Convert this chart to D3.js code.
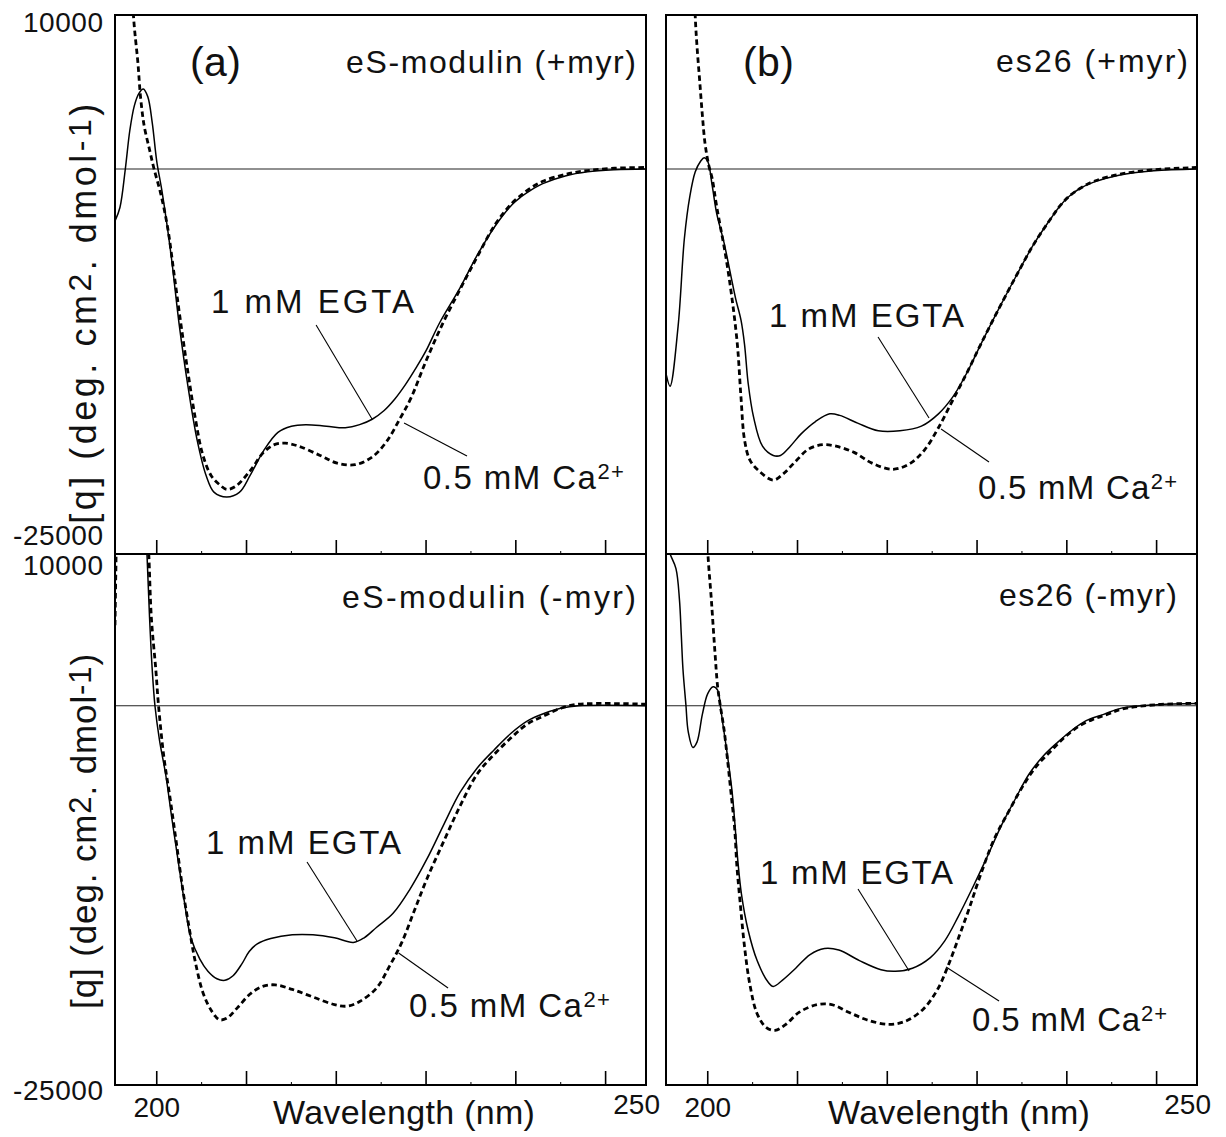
<!DOCTYPE html>
<html><head><meta charset="utf-8">
<script src="https://cdn.jsdelivr.net/npm/d3@7"></script>
<style>
body{margin:0;background:#fff}
svg{display:block}
text{font-family:"Liberation Sans",Arial,Helvetica,sans-serif;fill:#111}
</style>
</head><body>
<svg id="chart" width="1226" height="1137"></svg>
<script>
// ---------- DATA (wavelength nm, [theta] deg cm2 dmol-1) ----------
const xTicks = [200, 210, 220, 230, 240, 250];
const xMinorTicks = [205, 215, 225, 235, 245];
const xTickText = ["200", "250"];
const yTickValues = [10000, -25000];
const yTickText = ["10000", "-25000"];
const panelLetters = ["(a)", "(b)", "", ""];
const panelTitles = ["eS-modulin (+myr)", "es26 (+myr)", "eS-modulin (-myr)", "es26 (-myr)"];
const seriesNames = ["1 mM EGTA", "0.5 mM Ca"];

// (a) eS-modulin (+myr)
const aEGTA = [[195.4,-3300],[195.9,-2500],[196.5,0],[197.0,2500],[197.5,4100],[198.0,4900],[198.5,5200],[199.0,4700],[199.5,3000],[200.0,500],[200.6,-1500],[201.6,-5600],[202.5,-10100],[203.5,-14200],[204.5,-17600],[205.5,-19900],[206.4,-21000],[207.8,-21300],[209.2,-21000],[210.4,-19900],[211.9,-18300],[213.5,-17100],[215.0,-16700],[216.6,-16600],[218.9,-16700],[221.0,-16800],[222.6,-16600],[224.0,-16250],[225.3,-15700],[226.5,-14950],[227.7,-14000],[228.9,-12900],[230.0,-11800],[231.5,-10000],[233.8,-7700],[235.7,-5600],[237.7,-3700],[239.6,-2300],[240.6,-1800],[241.6,-1400],[243.0,-950],[245.5,-450],[248.0,-180],[251.0,-50],[254.5,0]];
const aCa = [[197.0,16000],[197.4,10000],[197.9,6900],[198.2,4650],[198.6,2800],[199.2,1250],[199.7,0],[200.4,-1500],[201.2,-3750],[201.95,-6900],[202.7,-10100],[203.5,-13300],[204.3,-16200],[205.1,-18500],[206.05,-19900],[207.0,-20500],[207.8,-20800],[208.8,-20600],[210.4,-19600],[211.9,-18400],[213.1,-17900],[214.3,-17800],[215.8,-18000],[218.2,-18600],[220.1,-19100],[222.1,-19200],[224.0,-18700],[225.6,-17700],[227.1,-16200],[228.3,-14900],[229.9,-12600],[231.8,-10100],[233.8,-7800],[235.7,-5700],[237.7,-3600],[239.6,-2200],[240.6,-1700],[241.6,-1250],[243.0,-800],[245.5,-350],[248.0,-100],[251.0,50],[254.5,100]];

// (b) es26 (+myr)
const bEGTA = [[195.4,-13400],[195.8,-14100],[196.7,-10200],[197.4,-4500],[198.0,-1800],[198.6,-200],[199.2,500],[199.6,730],[200.0,500],[200.5,-1100],[201.0,-2900],[201.8,-4750],[202.6,-7000],[203.1,-8400],[203.7,-9800],[204.1,-11400],[204.5,-13900],[205.1,-16100],[206.1,-18000],[207.3,-18600],[208.1,-18600],[209.2,-18000],[210.4,-17200],[212.0,-16400],[213.6,-15900],[214.7,-16000],[216.7,-16500],[219.0,-17000],[221.4,-17000],[223.8,-16700],[225.7,-15900],[227.3,-14800],[228.9,-13200],[230.4,-11400],[232.4,-9100],[234.4,-6900],[236.3,-4900],[238.3,-3150],[239.3,-2350],[240.3,-1750],[241.5,-1250],[243.0,-850],[245.8,-400],[249.7,-120],[254.5,0]];
const bCa = [[198.3,16000],[198.6,10000],[198.8,8000],[199.1,5750],[199.4,3500],[199.7,1650],[200.1,270],[200.5,-640],[201.0,-2450],[202.0,-5650],[202.7,-8400],[203.3,-11400],[203.7,-14800],[204.1,-17600],[204.7,-18900],[205.7,-19600],[207.3,-20200],[208.4,-19800],[209.6,-19100],[211.2,-18200],[212.8,-17900],[214.3,-18000],[216.3,-18400],[218.3,-19100],[220.6,-19500],[222.6,-19100],[224.2,-18200],[225.7,-16800],[227.3,-15000],[228.9,-13200],[230.4,-11400],[232.4,-9100],[234.4,-6900],[236.3,-4900],[238.3,-3150],[239.3,-2350],[240.3,-1750],[241.5,-1250],[243.0,-800],[245.8,-350],[249.7,-50],[254.5,100]];

// (c) eS-modulin (-myr)
const cEGTA = [[198.6,16000],[198.9,10150],[199.2,5800],[199.5,2350],[199.8,0],[200.3,-2250],[201.0,-4550],[201.7,-7500],[202.4,-10300],[203.1,-13000],[203.8,-15300],[204.8,-16700],[205.7,-17500],[206.7,-18000],[207.6,-18100],[208.5,-17800],[209.5,-17000],[210.3,-16200],[211.2,-15700],[212.7,-15350],[215.1,-15100],[217.4,-15100],[219.8,-15300],[221.9,-15600],[223.1,-15300],[224.5,-14600],[226.3,-13700],[228.2,-12100],[230.1,-10100],[232.0,-7800],[233.8,-5700],[235.7,-4100],[237.6,-2900],[239.5,-1800],[241.3,-1000],[243.2,-500],[245.1,-150],[247.0,0],[254.5,0]];
const cCa = [[195.35,5300],[195.45,9000],[195.6,12500],[196.5,16000],[198.0,16000],[198.8,13000],[199.1,10150],[199.4,5800],[199.9,2350],[200.2,0],[200.8,-3400],[201.5,-6150],[202.2,-9100],[202.9,-12100],[203.6,-14600],[204.3,-16900],[205.2,-19000],[206.2,-20200],[207.0,-20700],[207.8,-20600],[209.0,-19900],[210.4,-19000],[211.8,-18500],[213.2,-18400],[215.1,-18700],[217.4,-19200],[219.8,-19700],[221.2,-19800],[222.6,-19500],[224.5,-18600],[225.9,-17200],[227.3,-15600],[228.7,-13500],[230.1,-11400],[232.0,-8900],[233.8,-6600],[235.7,-4500],[237.6,-3200],[239.5,-2100],[241.3,-1200],[243.2,-650],[245.1,-150],[247.0,100],[254.5,100]];

// (d) es26 (-myr)
const dEGTA = [[195.5,11500],[195.7,10200],[196.46,9040],[196.85,6980],[197.05,4700],[197.24,2400],[197.56,110],[197.83,-1720],[198.35,-2750],[198.8,-2400],[199.4,-570],[200.0,800],[200.6,1250],[201.1,1030],[201.4,0],[201.7,-1260],[202.2,-3300],[202.7,-5600],[203.0,-7600],[203.35,-10200],[203.75,-12400],[204.5,-14800],[205.5,-16800],[206.7,-18200],[207.3,-18500],[208.3,-18100],[209.8,-17300],[211.4,-16400],[213.0,-16000],[214.6,-16100],[216.9,-16800],[219.3,-17400],[220.9,-17500],[222.8,-17300],[224.8,-16600],[226.4,-15500],[227.9,-13900],[229.5,-12000],[231.1,-10000],[232.7,-7900],[234.3,-6100],[235.8,-4500],[237.4,-3300],[239.0,-2400],[240.6,-1600],[242.1,-1000],[244.1,-570],[246.1,-160],[250.0,70],[254.5,150]];
const dCa = [[199.8,14000],[200.0,10200],[200.4,7000],[200.8,3550],[201.1,1260],[201.4,0],[201.8,-1500],[202.2,-3550],[202.6,-5800],[203.0,-8100],[203.25,-10600],[203.6,-12900],[204.1,-15900],[204.7,-18400],[205.5,-20300],[206.5,-21200],[207.5,-21400],[208.7,-21000],[210.2,-20200],[212.2,-19700],[213.8,-19700],[215.7,-20200],[217.7,-20700],[220.1,-21000],[222.0,-20800],[224.0,-20000],[225.6,-18700],[226.8,-17100],[228.0,-15200],[229.1,-13400],[230.3,-11300],[231.9,-8800],[233.5,-7000],[235.0,-5400],[236.6,-4000],[238.2,-3000],[239.8,-2060],[241.3,-1370],[242.9,-900],[244.5,-570],[246.1,-230],[250.0,70],[254.5,160]];

// annotation anchors in data units
const annotEGTA = [[206.05,-9350],[206.83,-10260],[205.49,-9775],[205.83,-11750]];
const annotCa = [[229.66,-20780],[230.11,-21430],[228.1,-20520],[229.44,-21440]];
const leaderEGTA = [[[217.75,-10130],[223.98,-16235]],[[218.97,-10910],[224.65,-16170]],[[216.74,-10300],[222.31,-15510]],[[216.74,-12080],[222.43,-17490]]];
const leaderCa = [[[227.55,-16495],[234.56,-18640]],[[225.99,-16884],[231.33,-19027]],[[226.94,-16300],[232.45,-18610]],[[226.55,-17220],[232.45,-19460]]];
const egtaSeries = [aEGTA, bEGTA, cEGTA, dEGTA];
const caSeries = [aCa, bCa, cCa, dCa];

// ---------- LAYOUT ----------
const svg = d3.select("#chart");
const cols = [{x0:115, x1:646}, {x0:666, x1:1197}];
const rows = [{y0:15, y1:554}, {y0:554, y1:1085}];
const xDomain = [195.35, 254.5];
const yDomain = [-25000, 10000];
const layout = [
  {c:0, r:0, letX:190, letBase:76, letW:51, titX:346, titBase:73, titW:290, egtaW:203, caW:201},
  {c:1, r:0, letX:743, letBase:76, letW:51, titX:996, titBase:72, titW:192, egtaW:195, caW:199},
  {c:0, r:1, titX:342, titBase:608, titW:294, egtaW:195, caW:201},
  {c:1, r:1, titX:999, titBase:606, titW:178, egtaW:193, caW:195}
];

function fitWidth(sel, w){
  const node = sel.node();
  const n = node.textContent.length;
  const cur = node.getComputedTextLength();
  if (n > 1) sel.attr("letter-spacing", ((w - cur) / (n - 1)).toFixed(2));
}

const defs = svg.append("defs");

layout.forEach((L, i) => {
  const C = cols[L.c], R = rows[L.r];
  const x = d3.scaleLinear().domain(xDomain).range([C.x0, C.x1]);
  const y = d3.scaleLinear().domain(yDomain).range([R.y1, R.y0]);
  const g = svg.append("g");

  defs.append("clipPath").attr("id", "clip" + i)
    .append("rect").attr("x", C.x0).attr("y", R.y0)
    .attr("width", C.x1 - C.x0).attr("height", R.y1 - R.y0);

  // zero line
  g.append("line").attr("x1", C.x0).attr("x2", C.x1)
    .attr("y1", y(0)).attr("y2", y(0))
    .attr("stroke", "#222").attr("stroke-width", 1.1);

  const line = d3.line().x(d => x(d[0])).y(d => y(d[1])).curve(d3.curveCatmullRom.alpha(0.5));
  const cg = g.append("g").attr("clip-path", `url(#clip${i})`);
  cg.append("path").datum(egtaSeries[i]).attr("d", line)
    .attr("fill", "none").attr("stroke", "#000").attr("stroke-width", 1.5);
  cg.append("path").datum(caSeries[i]).attr("d", line)
    .attr("fill", "none").attr("stroke", "#000").attr("stroke-width", 2.8)
    .attr("stroke-dasharray", "5.5,3.5");

  // frame
  g.append("rect").attr("x", C.x0).attr("y", R.y0)
    .attr("width", C.x1 - C.x0).attr("height", R.y1 - R.y0)
    .attr("fill", "none").attr("stroke", "#000").attr("stroke-width", 2);

  // ticks (inward, bottom edge)
  g.selectAll(".maj").data(xTicks).enter().append("line")
    .attr("x1", d => x(d)).attr("x2", d => x(d))
    .attr("y1", R.y1).attr("y2", R.y1 - 14)
    .attr("stroke", "#000").attr("stroke-width", 1.6);
  g.selectAll(".min").data(xMinorTicks).enter().append("line")
    .attr("x1", d => x(d)).attr("x2", d => x(d))
    .attr("y1", R.y1).attr("y2", R.y1 - 3)
    .attr("stroke", "#000").attr("stroke-width", 1);

  // panel letter
  if (panelLetters[i]) {
    const t = g.append("text").attr("x", L.letX).attr("y", L.letBase)
      .attr("font-size", 41).text(panelLetters[i]);
    fitWidth(t, L.letW);
  }
  // panel title
  const tt = g.append("text").attr("x", L.titX).attr("y", L.titBase)
    .attr("font-size", 32).text(panelTitles[i]);
  fitWidth(tt, L.titW);

  // annotations
  const e = g.append("text").attr("x", x(annotEGTA[i][0])).attr("y", y(annotEGTA[i][1]))
    .attr("font-size", 33).text(seriesNames[0]);
  fitWidth(e, L.egtaW);
  const ca = g.append("text").attr("x", x(annotCa[i][0])).attr("y", y(annotCa[i][1]))
    .attr("font-size", 33);
  ca.append("tspan").text(seriesNames[1]);
  ca.append("tspan").attr("font-size", 22).attr("dy", -10).text("2+");
  fitWidth(ca, L.caW);

  [leaderEGTA[i], leaderCa[i]].forEach(seg => {
    g.append("line")
      .attr("x1", x(seg[0][0])).attr("y1", y(seg[0][1]))
      .attr("x2", x(seg[1][0])).attr("y2", y(seg[1][1]))
      .attr("stroke", "#000").attr("stroke-width", 1.1);
  });

  // y tick labels (left column only)
  if (L.c === 0) {
    const bases = L.r === 0 ? [32, 545] : [575, 1100];
    const widths = [80, 90];
    yTickValues.forEach((v, k) => {
      const t = g.append("text").attr("x", 103 - widths[k]).attr("y", bases[k])
        .attr("font-size", 28).text(yTickText[k]);
      fitWidth(t, widths[k]);
    });
    // y axis title
    const cy = L.r === 0 ? 312 : 831;
    const len = L.r === 0 ? 420 : 355;
    const fs = L.r === 0 ? 36 : 35;
    const yt = g.append("text")
      .attr("transform", `translate(96,${cy}) rotate(-90)`)
      .attr("text-anchor", "middle").attr("font-size", fs);
    yt.append("tspan").text("[q] (deg. cm");
    yt.append("tspan").attr("dy", -5).attr("font-size", fs - 4).text("2");
    yt.append("tspan").attr("dy", 5).text(". dmol");
    yt.append("tspan").attr("dy", -5).attr("font-size", fs - 4).text("-1");
    yt.append("tspan").attr("dy", 5).text(")");
    fitWidth(yt, len);
  }

  // x tick labels + axis title (bottom row)
  if (L.r === 1) {
    g.append("text").attr("x", x(xTicks[0])).attr("y", 1117)
      .attr("text-anchor", "middle").attr("font-size", 28).text(xTickText[0]);
    g.append("text").attr("x", C.x1 + 14).attr("y", 1114)
      .attr("text-anchor", "end").attr("font-size", 28).text(xTickText[1]);
    const wl = g.append("text").attr("x", L.c === 0 ? 273 : 828).attr("y", 1124)
      .attr("font-size", 34).text("Wavelength (nm)");
    fitWidth(wl, 262);
  }
});
</script>
</body></html>
